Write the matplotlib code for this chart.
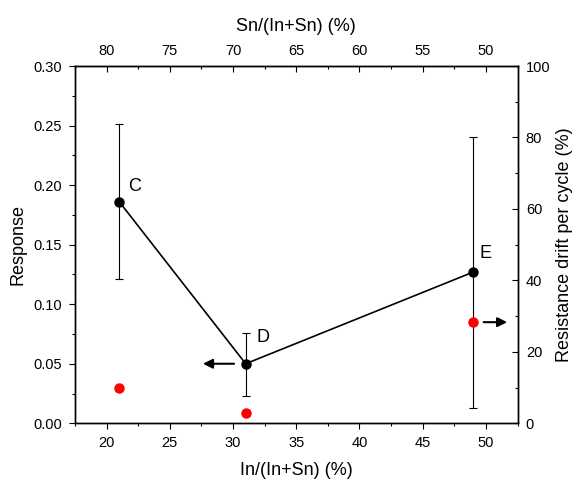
import numpy as np
import matplotlib.pyplot as plt
from matplotlib.ticker import MultipleLocator

plt.rcParams['font.family'] = ['Liberation Sans', 'DejaVu Sans']

# data
in_frac = [21, 31, 49]              # In/(In+Sn) (%)
labels = ["C", "D", "E"]
response = [0.186, 0.050, 0.127]
resp_err_hi = [0.251, 0.076, 0.240]
resp_err_lo = [0.121, 0.023, 0.013]
drift = [9.9, 2.9, 28.3]            # resistance drift per cycle (%)

resp = np.array(response)
yerr = [resp - np.array(resp_err_lo), np.array(resp_err_hi) - resp]

TICK_FS = 10.5
LABEL_FS = 13

fig = plt.figure(figsize=(5.74, 4.79), dpi=100)
ax = fig.add_axes([0.1307, 0.1163, 0.7709, 0.7459])

ax.errorbar(in_frac, response, yerr=yerr, fmt="none", ecolor="black",
            elinewidth=0.8, capsize=3, capthick=0.8, zorder=2)
ax.plot(in_frac, response, "-o", color="black", lw=1.2, ms=6.5, zorder=3)

# point labels, offsets in points
offsets = [(11, 11), (12.5, 19), (8.5, 13)]
for x, y, t, off in zip(in_frac, response, labels, offsets):
    ax.annotate(t, (x, y), xytext=off, textcoords="offset points",
                fontsize=LABEL_FS, ha="center", va="center")

ax.set_xlim(17.5, 52.5)
ax.set_ylim(0, 0.30)
ax.xaxis.set_major_locator(MultipleLocator(5))
ax.xaxis.set_minor_locator(MultipleLocator(2.5))
ax.yaxis.set_major_locator(MultipleLocator(0.05))
ax.yaxis.set_minor_locator(MultipleLocator(0.025))
ax.yaxis.set_major_formatter(plt.FormatStrFormatter("%.2f"))
ax.tick_params(which="both", direction="out", labelsize=TICK_FS, width=0.8, pad=5)
ax.tick_params(which="major", length=4.5)
ax.tick_params(which="minor", length=2.5)
ax.set_xlabel("In/(In+Sn) (%)", fontsize=LABEL_FS, labelpad=8)
ax.set_ylabel("Response", fontsize=LABEL_FS, labelpad=5)

# arrow to the left axis, from point D
ax.annotate("", xy=(in_frac[1] - 3.6, response[1]), xytext=(in_frac[1] - 0.7, response[1]),
            arrowprops=dict(arrowstyle="-|>", color="black", lw=1.5, mutation_scale=14))

# right axis: drift
axr = ax.twinx()
axr.plot(in_frac, drift, "o", color="red", ms=6.5, zorder=4)
axr.set_ylim(0, 100)
axr.yaxis.set_major_locator(MultipleLocator(20))
axr.yaxis.set_minor_locator(MultipleLocator(10))
axr.tick_params(which="both", direction="in", labelsize=TICK_FS, width=0.8, pad=6)
axr.tick_params(which="major", length=4.5)
axr.tick_params(which="minor", length=2.5)
axr.set_ylabel("Resistance drift per cycle (%)", fontsize=LABEL_FS, labelpad=4)

# arrow to the right axis, from point E
axr.annotate("", xy=(in_frac[2] + 2.9, drift[2]), xytext=(in_frac[2] + 0.6, drift[2]),
             arrowprops=dict(arrowstyle="-|>", color="black", lw=1.5, mutation_scale=14))

# top axis: Sn fraction
top = ax.secondary_xaxis("top", functions=(lambda x: 100 - x, lambda x: 100 - x))
top.xaxis.set_major_locator(MultipleLocator(5))
top.xaxis.set_minor_locator(MultipleLocator(2.5))
top.tick_params(which="both", direction="in", labelsize=TICK_FS, width=0.8, pad=6)
top.tick_params(which="major", length=4.5)
top.tick_params(which="minor", length=2.5)
top.set_xlabel("Sn/(In+Sn) (%)", fontsize=LABEL_FS, labelpad=9)

for a in (ax, axr):
    for s in a.spines.values():
        s.set_linewidth(1.0)

fig.savefig("out.png", dpi=100)
